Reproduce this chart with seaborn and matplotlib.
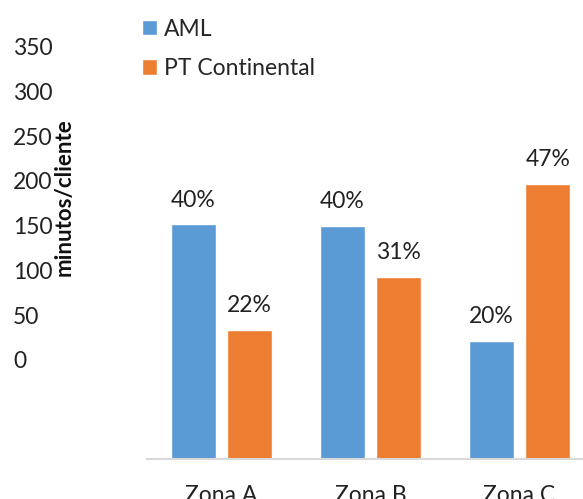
import numpy as np
import pandas as pd
import seaborn as sns
import matplotlib.pyplot as plt
from matplotlib.transforms import ScaledTranslation

zonas = ["Zona A", "Zona B", "Zona C"]
series = ["AML", "PT Continental"]
aml = [262, 260, 132]
pt = [144, 203, 307]
aml_pct = ["40%", "40%", "20%"]
pt_pct = ["22%", "31%", "47%"]
yticks = [0, 50, 100, 150, 200, 250, 300, 350]

df = pd.DataFrame({
    "zona": zonas * 2,
    "serie": [series[0]] * 3 + [series[1]] * 3,
    "valor": aml + pt,
})

sns.set_style("white")
plt.rcParams["font.family"] = ["Lato", "DejaVu Sans"]

fig = plt.figure(figsize=(5.83, 4.99), dpi=100)
ax = fig.add_axes([147 / 583, 40 / 499, 447 / 583, 419 / 499])

sns.barplot(data=df, x="zona", y="valor", hue="serie", hue_order=series,
            palette=["#5B9BD5", "#ED7D31"], saturation=1, width=0.76, gap=0.2,
            ax=ax)

ax.set_xlim(-0.5, 2.5)
ax.set_ylim(0, 468)

ax.bar_label(ax.containers[0], labels=aml_pct, padding=10, fontsize=16.5, color="#222222")
ax.bar_label(ax.containers[1], labels=pt_pct, padding=10, fontsize=16.5, color="#222222")

for s in ["left", "right", "top"]:
    ax.spines[s].set_visible(False)
ax.spines["bottom"].set_color("#D9D9D9")
ax.spines["bottom"].set_linewidth(1.5)

ax.set_yticks(yticks)
ax.set_yticklabels([str(v) for v in yticks])
ax.tick_params(axis="y", length=0, pad=0, labelsize=16.5, labelcolor="#222222")
ax.tick_params(axis="x", length=0, pad=19, labelsize=16.5, labelcolor="#222222")
# tick labels sit higher and further left than the bars' scale
off = ScaledTranslation(-1.34, 0.99, fig.dpi_scale_trans)
for lab in ax.get_yticklabels():
    lab.set_horizontalalignment("left")
    lab.set_transform(lab.get_transform() + off)

ax.set_xlabel("")
ax.set_ylabel("minutos/cliente", fontsize=16, fontweight="bold", color="#111111")
ax.yaxis.set_label_coords(-0.161, 0.625)

sns.move_legend(ax, "upper left", bbox_to_anchor=(-0.037, 1.078), frameon=False,
                title=None, fontsize=16.5, handlelength=0.65, handleheight=0.65,
                handletextpad=0.3, labelspacing=0.8, borderpad=0)

fig.savefig("out.png", dpi=100)
